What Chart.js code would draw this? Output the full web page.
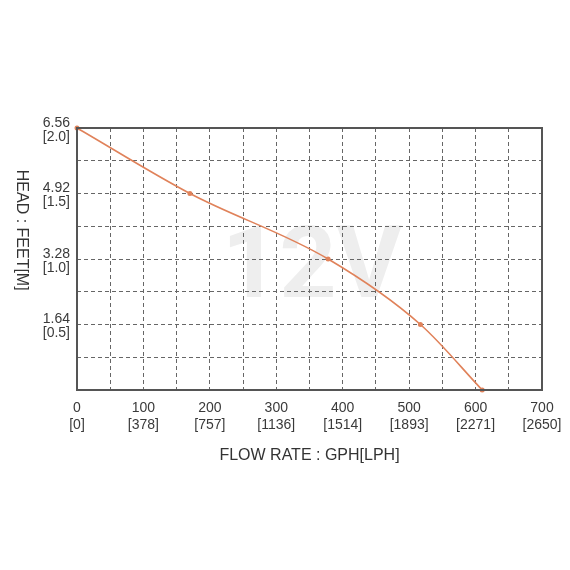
<!DOCTYPE html>
<html>
<head>
<meta charset="utf-8">
<script src="https://cdn.jsdelivr.net/npm/chart.js@4"></script>
<style>
  html, body { margin: 0; padding: 0; background: #fff; }
  #wrap { width: 570px; height: 570px; }
</style>
</head>
<body>
<div id="wrap"><canvas id="pumpChart" width="570" height="570"></canvas></div>
<script>
// ---------- DATA ----------
const flowGph   = [0, 170, 378, 517, 610];
const headFeet  = [6.56, 4.92, 3.28, 1.64, 0];

const xTicks    = [0, 50, 100, 150, 200, 250, 300, 350, 400, 450, 500, 550, 600, 650, 700];
const xLabels   = { 0: "[0]", 100: "[378]", 200: "[757]", 300: "[1136]", 400: "[1514]", 500: "[1893]", 600: "[2271]", 700: "[2650]" };

const yTicks    = [0, 0.82, 1.64, 2.46, 3.28, 4.10, 4.92, 5.74, 6.56];
const yLabels   = { "1.64": "[0.5]", "3.28": "[1.0]", "4.92": "[1.5]", "6.56": "[2.0]" };

const xTitle    = "FLOW RATE : GPH[LPH]";
const yTitle    = "HEAD : FEET[M]";
const watermark = "12V";

const FONT = "Arial, 'Liberation Sans', sans-serif";

// ---------- PLUGINS ----------
const watermarkPlugin = {
  id: "watermark",
  beforeDraw(chart) {
    const { ctx, chartArea: a } = chart;
    ctx.save();
    ctx.fillStyle = "#eeeeee";
    ctx.font = "700 100px Roboto, 'DejaVu Sans', sans-serif";
    ctx.textAlign = "center";
    ctx.textBaseline = "alphabetic";
    ctx.fillText(watermark, a.left + a.width * 0.505, a.top + a.height * 0.645);
    ctx.restore();
  }
};

const titlesPlugin = {
  id: "axisTitles",
  afterDraw(chart) {
    const { ctx, chartArea: a } = chart;
    ctx.save();
    ctx.fillStyle = "#333";
    ctx.font = "16px " + FONT;
    ctx.textAlign = "center";
    ctx.textBaseline = "middle";
    ctx.fillText(xTitle, a.left + a.width * 0.5, a.bottom + 66);

    ctx.translate(a.left - 56, a.top + a.height * 0.39);
    ctx.rotate(Math.PI / 2);
    ctx.fillText(yTitle, 0, 0);
    ctx.restore();
  }
};

const framePlugin = {
  id: "frame",
  afterDatasetsDraw(chart) {
    const { ctx, chartArea: a } = chart;
    ctx.save();
    ctx.strokeStyle = "#555";
    ctx.lineWidth = 2;
    ctx.setLineDash([]);
    ctx.strokeRect(a.left, a.top, a.width, a.height);
    ctx.restore();
  }
};

// ---------- CHART ----------
const lineColor = "#e0825a";

new Chart(document.getElementById("pumpChart").getContext("2d"), {
  type: "line",
  data: {
    datasets: [{
      data: flowGph.map((x, i) => ({ x, y: headFeet[i] })),
      borderColor: lineColor,
      backgroundColor: lineColor,
      borderWidth: 1.6,
      pointRadius: 2.5,
      pointBorderWidth: 0,
      cubicInterpolationMode: "monotone",
      clip: false
    }]
  },
  options: {
    responsive: false,
    animation: false,
    layout: { padding: { left: 0, right: 28, top: 128, bottom: 100 } },
    plugins: {
      legend: { display: false },
      tooltip: { enabled: false }
    },
    scales: {
      x: {
        type: "linear",
        min: 0,
        max: 700,
        afterBuildTicks: s => { s.ticks = xTicks.map(v => ({ value: v })); },
        afterFit: s => { s.height = 80; s.paddingRight = 0; s.paddingLeft = 0; },
        grid: { color: "#666", lineWidth: 1, drawTicks: false },
        border: { display: false, dash: [4, 3] },
        ticks: {
          padding: 10,
          color: "#3a3a3a",
          font: { family: FONT, size: 14, lineHeight: 1.18 },
          maxRotation: 0,
          autoSkip: false,
          callback: v => xLabels[v] !== undefined ? [String(v), xLabels[v]] : ""
        }
      },
      y: {
        type: "linear",
        min: 0,
        max: 6.56,
        afterBuildTicks: s => { s.ticks = yTicks.map(v => ({ value: v })); },
        afterFit: s => { s.width = 77; },
        grid: { color: "#666", lineWidth: 1, drawTicks: false },
        border: { display: false, dash: [4, 3] },
        ticks: {
          padding: 7,
          labelOffset: 2,
          color: "#3a3a3a",
          font: { family: FONT, size: 14, lineHeight: 1.0 },
          autoSkip: false,
          callback: v => {
            const k = v.toFixed(2);
            return yLabels[k] ? [k, yLabels[k]] : "";
          }
        }
      }
    }
  },
  plugins: [watermarkPlugin, titlesPlugin, framePlugin]
});
</script>
</body>
</html>
